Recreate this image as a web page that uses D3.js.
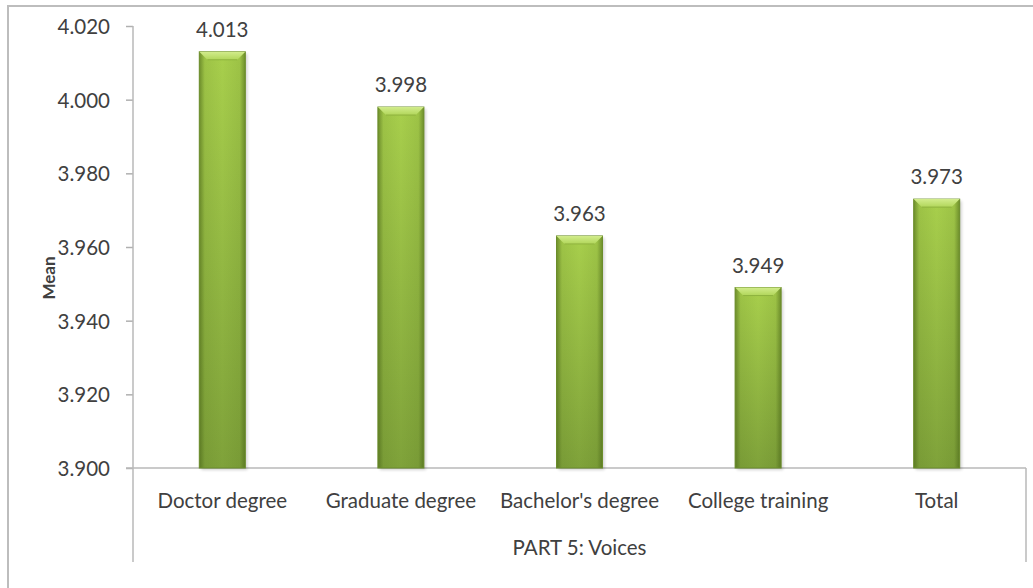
<!DOCTYPE html>
<html>
<head>
<meta charset="utf-8">
<script src="https://cdn.jsdelivr.net/npm/d3@7"></script>
<style>
  html, body { margin: 0; padding: 0; background: #fff; }
  svg { display: block; }
  text { font-family: Lato, "Open Sans", sans-serif; fill: #404040; }
</style>
</head>
<body>
<svg id="chart" width="1033" height="588"></svg>
<script>
// Mean scores by education level, PART 5: Voices
const categories = ["Doctor degree", "Graduate degree", "Bachelor's degree", "College training", "Total"];
const means = [4.013, 3.998, 3.963, 3.949, 3.973];
const meanLabels = ["4.013", "3.998", "3.963", "3.949", "3.973"];
const yTicks = [3.900, 3.920, 3.940, 3.960, 3.980, 4.000, 4.020];
const groupTitle = "PART 5: Voices";
const yTitle = "Mean";

const svg = d3.select("#chart");
const plot = { left: 133, right: 1026, top: 26, bottom: 468 };
const fs = 20.5;

// outer frame (runs past the right and bottom edges)
svg.append("rect")
  .attr("x", 8).attr("y", 6).attr("width", 1060).attr("height", 620)
  .attr("fill", "none").attr("stroke", "#bdbdbd").attr("stroke-width", 2);

const x = d3.scaleBand().domain(categories).range([plot.left, plot.right]).paddingInner(0).paddingOuter(0);
const y = d3.scaleLinear().domain([3.900, 4.020]).range([plot.bottom, plot.top]);

const defs = svg.append("defs");
const gV = defs.append("linearGradient").attr("id", "barV").attr("x1", 0).attr("y1", 0).attr("x2", 0).attr("y2", 1);
gV.append("stop").attr("offset", "0%").attr("stop-color", "#a8cf4c");
gV.append("stop").attr("offset", "100%").attr("stop-color", "#7fa23a");
const gH = defs.append("linearGradient").attr("id", "barH").attr("x1", 0).attr("y1", 0).attr("x2", 1).attr("y2", 0);
gH.append("stop").attr("offset", "0%").attr("stop-color", "#3f5a12").attr("stop-opacity", 0.55);
gH.append("stop").attr("offset", "12%").attr("stop-color", "#3f5a12").attr("stop-opacity", 0.1);
gH.append("stop").attr("offset", "50%").attr("stop-color", "#3f5a12").attr("stop-opacity", 0);
gH.append("stop").attr("offset", "88%").attr("stop-color", "#3f5a12").attr("stop-opacity", 0.1);
gH.append("stop").attr("offset", "100%").attr("stop-color", "#3f5a12").attr("stop-opacity", 0.55);
const gTop = defs.append("linearGradient").attr("id", "barTop").attr("x1", 0).attr("y1", 0).attr("x2", 0).attr("y2", 1);
gTop.append("stop").attr("offset", "0%").attr("stop-color", "#d2ec8c");
gTop.append("stop").attr("offset", "100%").attr("stop-color", "#b1d65a");
const blur = defs.append("filter").attr("id", "soft").attr("x", "-20%").attr("y", "-20%").attr("width", "140%").attr("height", "140%");
blur.append("feGaussianBlur").attr("stdDeviation", 1.5);

// y axis
const yAxis = d3.axisLeft(y).tickValues(yTicks).tickFormat(d3.format(".3f")).tickSize(7).tickPadding(16);
const yg = svg.append("g").attr("transform", `translate(${plot.left},0)`).call(yAxis);
yg.select(".domain").remove();
yg.selectAll(".tick line").attr("stroke", "#b0b0b0").attr("stroke-width", 1.5);
yg.selectAll(".tick text").attr("font-size", fs).attr("fill", "#404040")
  .attr("font-family", "Lato, 'Open Sans', sans-serif").attr("dy", "0.36em");

// axis frame: y axis line extended down around the category group
svg.append("line").attr("x1", plot.left).attr("x2", plot.left).attr("y1", plot.top).attr("y2", 562)
  .attr("stroke", "#b8b8b8").attr("stroke-width", 1.5);
svg.append("line").attr("x1", plot.left - 7).attr("x2", plot.right).attr("y1", plot.bottom).attr("y2", plot.bottom)
  .attr("stroke", "#b8b8b8").attr("stroke-width", 1.5);
svg.append("line").attr("x1", plot.right).attr("x2", plot.right).attr("y1", plot.bottom).attr("y2", 562)
  .attr("stroke", "#b8b8b8").attr("stroke-width", 1.5);

// bars
const bw = 46;
const bars = svg.append("g").selectAll("g").data(categories).join("g")
  .attr("transform", d => `translate(${x(d) + x.bandwidth() / 2 - bw / 2},0)`);

bars.append("rect")
  .attr("x", 2).attr("y", (d, i) => y(means[i]) + 2)
  .attr("width", bw).attr("height", (d, i) => y(3.900) - y(means[i]))
  .attr("fill", "#000").attr("opacity", 0.18).attr("filter", "url(#soft)");
bars.append("rect")
  .attr("x", 0).attr("y", (d, i) => y(means[i]))
  .attr("width", bw).attr("height", (d, i) => y(3.900) - y(means[i]))
  .attr("fill", "url(#barV)");
bars.append("rect")
  .attr("x", 0).attr("y", (d, i) => y(means[i]))
  .attr("width", bw).attr("height", (d, i) => y(3.900) - y(means[i]))
  .attr("fill", "url(#barH)").attr("stroke", "#6b8d2b").attr("stroke-width", 1);
// top bevel
bars.append("path")
  .attr("d", (d, i) => {
    const t = y(means[i]);
    return `M0,${t} L${bw},${t} L${bw - 8},${t + 8} L8,${t + 8} Z`;
  })
  .attr("fill", "url(#barTop)");
bars.append("path")
  .attr("d", (d, i) => {
    const t = y(means[i]);
    return `M8,${t + 8} L${bw - 8},${t + 8}`;
  })
  .attr("stroke", "#8fb33f").attr("stroke-width", 1);

// value labels
svg.append("g").selectAll("text").data(categories).join("text")
  .attr("x", d => x(d) + x.bandwidth() / 2)
  .attr("y", (d, i) => y(means[i]) - 15)
  .attr("text-anchor", "middle").attr("font-size", fs)
  .text((d, i) => meanLabels[i]);

// category labels
svg.append("g").selectAll("text").data(categories).join("text")
  .attr("x", d => x(d) + x.bandwidth() / 2)
  .attr("y", 508)
  .attr("text-anchor", "middle").attr("font-size", fs)
  .text(d => d);

// group title
svg.append("text")
  .attr("x", (plot.left + plot.right) / 2).attr("y", 555)
  .attr("text-anchor", "middle").attr("font-size", fs)
  .text(groupTitle);

// y title
svg.append("text")
  .attr("transform", `translate(55,278) rotate(-90)`)
  .attr("text-anchor", "middle").attr("font-size", 17).attr("font-weight", "bold")
  .attr("fill", "#111")
  .text(yTitle);
</script>
</body>
</html>
